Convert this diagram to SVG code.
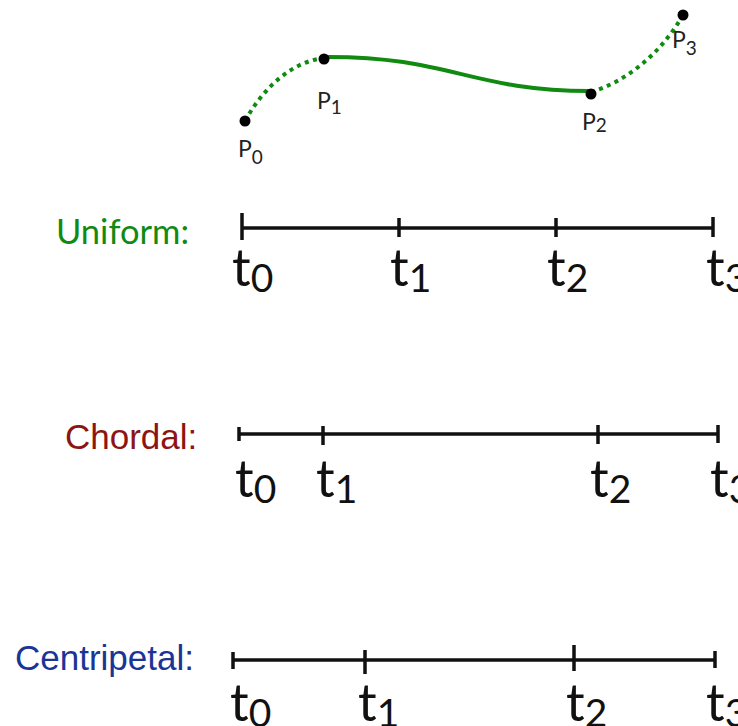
<svg xmlns="http://www.w3.org/2000/svg" width="738" height="726" viewBox="0 0 738 726">
<style>
.bg{fill:#fff}
.curve{fill:none;stroke:#118a11;stroke-width:4}
.dot{fill:none;stroke:#118a11;stroke-width:4;stroke-dasharray:4 4.5}
.pt{fill:#000}
.plab{font-family:Lato,"Open Sans",sans-serif;font-size:23px;fill:#222}
.sub{font-size:19px}
.axis{stroke:#111;stroke-width:3.5;fill:none}
.tick{stroke:#111;stroke-width:3.5}
.tl{font-family:Lato,"Open Sans",sans-serif;font-size:52px;fill:#111}
.ts{font-size:39px}
.uni{font-family:Lato,"Open Sans",sans-serif;font-size:34.5px;fill:#118a11}
.cho{font-family:"Liberation Sans",Arial,sans-serif;font-size:35px;fill:#8e1414}
.cen{font-family:"Liberation Sans",Arial,sans-serif;font-size:35px;fill:#1a3596}
</style>
<rect class="bg" width="738" height="726"/>
<g id="curve">
<path class="dot" d="M245,121 C262,90 290,62 324,58"/>
<path class="curve" d="M324,57 C450,56 470,91 590,91"/>
<path class="dot" d="M591,92 C625,82 660,55 683,15"/>
</g>
<g id="P0"><circle class="pt" cx="245" cy="121" r="5.5"/><text class="plab" x="238" y="157">P<tspan class="sub" dy="7">0</tspan></text></g>
<g id="P1"><circle class="pt" cx="324" cy="59" r="5.5"/><text class="plab" x="317" y="109">P<tspan class="sub" dy="5">1</tspan></text></g>
<g id="P2"><circle class="pt" cx="591" cy="94" r="5.5"/><text class="plab" x="582" y="130">P<tspan class="sub" dy="2">2</tspan></text></g>
<g id="P3"><circle class="pt" cx="683" cy="15" r="5.5"/><text class="plab" x="672" y="48">P<tspan class="sub" dy="7">3</tspan></text></g>
<g id="uniform">
<text class="uni" x="56" y="244">Uniform:</text>
<line class="axis" x1="242" y1="228" x2="713" y2="228"/>
<line class="tick" x1="242" y1="213" x2="242" y2="240"/>
<line class="tick" x1="399" y1="218" x2="399" y2="237"/>
<line class="tick" x1="556" y1="218" x2="556" y2="237"/>
<line class="tick" x1="713" y1="217" x2="713" y2="237"/>
<text class="tl" x="232" y="286">t<tspan class="ts" dy="6">0</tspan></text>
<text class="tl" x="390" y="286">t<tspan class="ts" dy="6">1</tspan></text>
<text class="tl" x="547" y="286">t<tspan class="ts" dy="6">2</tspan></text>
<text class="tl" x="706" y="286">t<tspan class="ts" dy="6">3</tspan></text>
</g>
<g id="chordal">
<text class="cho" x="65" y="449">Chordal:</text>
<line class="axis" x1="239" y1="434" x2="718" y2="434"/>
<line class="tick" x1="239" y1="427" x2="239" y2="441"/>
<line class="tick" x1="323" y1="426" x2="323" y2="445"/>
<line class="tick" x1="598" y1="425" x2="598" y2="444"/>
<line class="tick" x1="718" y1="425" x2="718" y2="443"/>
<text class="tl" x="235" y="497">t<tspan class="ts" dy="6">0</tspan></text>
<text class="tl" x="316" y="497">t<tspan class="ts" dy="6">1</tspan></text>
<text class="tl" x="590" y="497">t<tspan class="ts" dy="6">2</tspan></text>
<text class="tl" x="710" y="497">t<tspan class="ts" dy="6">3</tspan></text>
</g>
<g id="centripetal">
<text class="cen" x="15" y="670">Centripetal:</text>
<line class="axis" x1="233" y1="660" x2="715" y2="660"/>
<line class="tick" x1="233" y1="652" x2="233" y2="669"/>
<line class="tick" x1="365" y1="650" x2="365" y2="674"/>
<line class="tick" x1="574" y1="645" x2="574" y2="671"/>
<line class="tick" x1="715" y1="651" x2="715" y2="668"/>
<text class="tl" x="230" y="721">t<tspan class="ts" dy="6">0</tspan></text>
<text class="tl" x="358" y="721">t<tspan class="ts" dy="6">1</tspan></text>
<text class="tl" x="566" y="721">t<tspan class="ts" dy="6">2</tspan></text>
<text class="tl" x="706" y="721">t<tspan class="ts" dy="6">3</tspan></text>
</g>
</svg>
